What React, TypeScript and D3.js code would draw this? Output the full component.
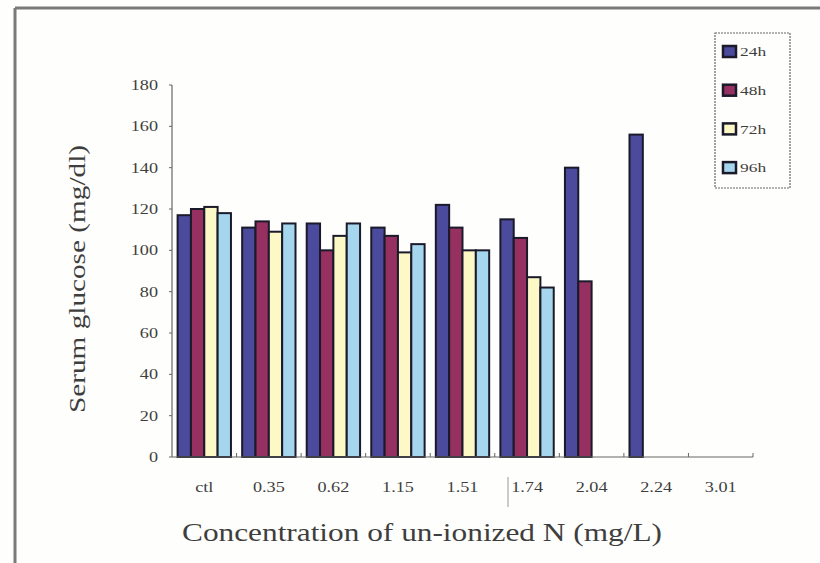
import React from "react";
import * as d3 from "d3";

const categories = ["ctl", "0.35", "0.62", "1.15", "1.51", "1.74", "2.04", "2.24", "3.01"];
const seriesNames = ["24h", "48h", "72h", "96h"];
const v24 = [117, 111, 113, 111, 122, 115, 140, 156, null];
const v48 = [120, 114, 100, 107, 111, 106, 85, null, null];
const v72 = [121, 109, 107, 99, 100, 87, null, null, null];
const v96 = [118, 113, 113, 103, 100, 82, null, null, null];
const yTicks = [0, 20, 40, 60, 80, 100, 120, 140, 160, 180];
const colors = ["#4b4a9c", "#963060", "#fdf9c6", "#a6d6ee"];

export default function App() {
  const W = 820, H = 563;
  const x0 = 172, x1 = 753, yTop = 85, yBot = 457;
  const x = d3.scaleBand<string>().domain(categories).range([x0, x1]).paddingInner(0).paddingOuter(0);
  const y = d3.scaleLinear().domain([0, 180]).range([yBot, yTop]);
  const inner = d3.scaleBand<string>().domain(seriesNames).range([0, x.bandwidth()]).paddingOuter(0.42).paddingInner(0);
  const data = [v24, v48, v72, v96];
  const font = "'Liberation Serif', 'Times New Roman', serif";
  const ink = "#3e3e3e";

  return (
    <svg width={W} height={H} style={{ position: "absolute", left: 0, top: 0, background: "#fefefc" }}>
      <rect x={0} y={0} width={W} height={H} fill="#fefefc" />
      {/* outer frame */}
      <line x1={15} y1={H} x2={15} y2={8} stroke="#7a7a7a" strokeWidth={3} />
      <line x1={15} y1={8} x2={W} y2={8} stroke="#7a7a7a" strokeWidth={3} />

      {/* bars */}
      {data.map((vals, si) =>
        categories.map((c, ci) => {
          const v = vals[ci];
          if (v == null) return null;
          const bx = (x(c) as number) + (inner(seriesNames[si]) as number);
          return (
            <rect key={si + "-" + ci} x={bx} y={y(v)} width={inner.bandwidth()} height={yBot - y(v)}
              fill={colors[si]} stroke="#1a1a2a" strokeWidth={2} />
          );
        })
      )}

      {/* y axis */}
      <line x1={x0} y1={yTop} x2={x0} y2={yBot} stroke="#666" strokeWidth={1.2} />
      {yTicks.map((t) => (
        <g key={t}>
          <line x1={x0 - 3} x2={x0} y1={y(t)} y2={y(t)} stroke="#666" strokeWidth={1} />
          <text transform={`translate(158,${y(t)}) scale(1.3,1)`} dy="0.35em" textAnchor="end" fontFamily={font} fontSize={14} fill={ink}>{t}</text>
        </g>
      ))}
      {/* x axis */}
      <line x1={x0} y1={yBot} x2={x1} y2={yBot} stroke="#666" strokeWidth={1.2} />
      {categories.map((c) => (
        <g key={c}>
          <line x1={(x(c) as number) + x.bandwidth()} x2={(x(c) as number) + x.bandwidth()} y1={yBot} y2={yBot - 4} stroke="#666" strokeWidth={1} />
          <text transform={`translate(${(x(c) as number) + x.bandwidth() / 2},487) scale(1.3,1)`} dy="0.35em" textAnchor="middle" fontFamily={font} fontSize={14} fill={ink}>{c}</text>
        </g>
      ))}
      <line x1={508} x2={508} y1={477} y2={507} stroke="#999" strokeWidth={1} />

      {/* axis titles */}
      <text transform={`translate(85,279) rotate(-90)`} textAnchor="middle" fontFamily={font} fontSize={24} fill={ink} textLength={268} lengthAdjust="spacingAndGlyphs">Serum glucose (mg/dl)</text>
      <text x={422} y={541} textAnchor="middle" fontFamily={font} fontSize={26} fill={ink} textLength={480} lengthAdjust="spacingAndGlyphs">Concentration of un-ionized N (mg/L)</text>

      {/* legend */}
      <rect x={715} y={33} width={75} height={155} fill="none" stroke="#666" strokeWidth={1.2} strokeDasharray="2,1" />
      {seriesNames.map((s, i) => (
        <g key={s}>
          <rect x={723} y={46 + i * 38.7} width={13} height={11} fill={colors[i]} stroke="#1a1a2a" strokeWidth={2.5} />
          <text transform={`translate(740,${52 + i * 38.7}) scale(1.45,1)`} dy="0.35em" fontFamily={font} fontSize={12} fill={ink}>{s}</text>
        </g>
      ))}
    </svg>
  );
}
